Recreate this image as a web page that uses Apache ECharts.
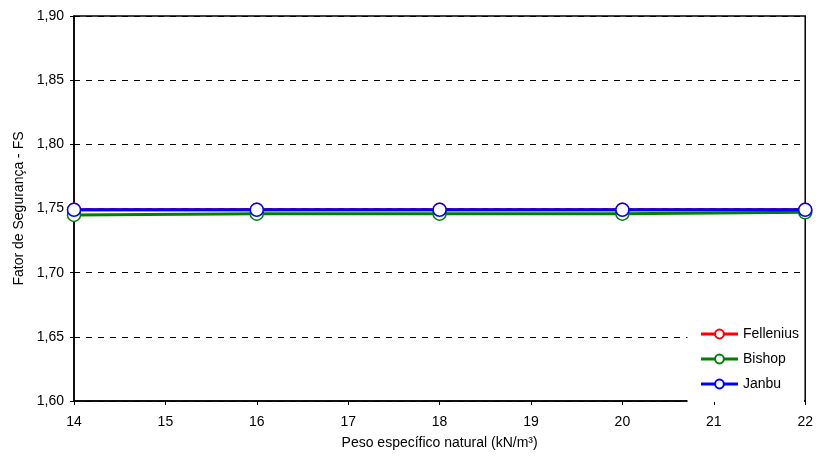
<!DOCTYPE html>
<html><head><meta charset="utf-8">
<script src="https://cdn.jsdelivr.net/npm/echarts@6/dist/echarts.min.js"></script>
<style>html,body{margin:0;padding:0;background:#fff}#c{width:816px;height:458px}</style>
</head><body><div id="c"></div>
<script>
const xValues = [14, 16, 18, 20, 22];
const fellenius = [1.749, 1.749, 1.749, 1.749, 1.749];
const bishop = [1.745, 1.746, 1.746, 1.746, 1.747];
const janbu = [1.749, 1.749, 1.749, 1.749, 1.749];
const seriesNames = ['Fellenius', 'Bishop', 'Janbu'];
const seriesColors = ['#ff0000', '#008000', '#0000ff'];
const yTitle = 'Fator de Segurança - FS';
const xTitle = 'Peso específico natural (kN/m³)';

const chart = echarts.init(document.getElementById('c'));
const font = 'Liberation Sans, Arial, sans-serif';
const data = [fellenius, bishop, janbu];
chart.setOption({
  animation: false,
  grid: { left: 74, right: 10, top: 16, bottom: 57, show: true, borderColor: '#000', borderWidth: 1.5, backgroundColor: '#fff' },
  xAxis: {
    type: 'value', min: 14, max: 22, interval: 1,
    name: xTitle, nameLocation: 'middle', nameGap: 35,
    nameTextStyle: { fontFamily: font, fontSize: 14, color: '#000' },
    axisLine: { lineStyle: { color: '#000', width: 1.5 } },
    axisTick: { show: true, length: 4, lineStyle: { color: '#000' } },
    axisLabel: { fontFamily: font, fontSize: 14, color: '#000', margin: 14 },
    splitLine: { show: false }
  },
  yAxis: {
    type: 'value', min: 1.6, max: 1.9, interval: 0.05,
    name: yTitle, nameLocation: 'middle', nameGap: 44,
    nameTextStyle: { fontFamily: font, fontSize: 14, color: '#000' },
    axisLine: { lineStyle: { color: '#000', width: 1.5 } },
    axisTick: { show: true, length: 4, lineStyle: { color: '#000' } },
    axisLabel: { fontFamily: font, fontSize: 14, color: '#000', margin: 10,
      formatter: v => v.toFixed(2).replace('.', ',') },
    splitLine: { show: true, lineStyle: { color: '#000', type: [6, 6], width: 1 } }
  },
  legend: {
    orient: 'vertical', right: 12, top: 320,
    backgroundColor: '#fff', padding: [7, 5, 11, 12], itemGap: 11,
    itemWidth: 37, itemHeight: 11, align: 'left',
    lineStyle: { width: 3 },
    textStyle: { fontFamily: font, fontSize: 14, lineHeight: 14, color: '#000' },
    data: seriesNames
  },
  series: seriesNames.map((n, i) => ({
    name: n, type: 'line',
    data: xValues.map((x, j) => [x, data[i][j]]),
    symbol: 'circle', symbolSize: 13,
    lineStyle: { color: seriesColors[i], width: 3 },
    itemStyle: { color: '#fff', borderColor: seriesColors[i], borderWidth: 1.5 },
    z: 2 + i
  }))
});
</script></body></html>
